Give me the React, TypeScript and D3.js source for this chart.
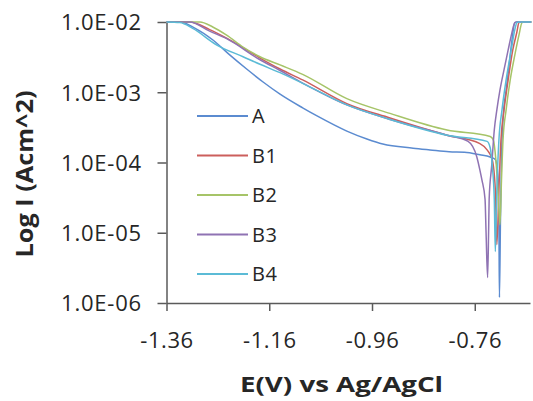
import React, { useRef, useEffect } from "react";
import * as d3 from "d3";

// Tafel curves: potential (V vs Ag/AgCl) and current density (A/cm^2)
const seriesNames = ["A", "B1", "B2", "B3", "B4"];
const seriesColors = ["#5b8bd0", "#cc5f5c", "#a6c468", "#8f73b3", "#5bbbd6"];

const aE = [-1.36, -1.334, -1.305, -1.269, -1.237, -1.204, -1.172, -1.139, -1.095, -1.067, -1.009, -0.97, -0.939, -0.88, -0.847, -0.81, -0.78, -0.75, -0.73, -0.72, -0.715, -0.713, -0.712, -0.71, -0.708, -0.705, -0.699, -0.693, -0.688, -0.682, -0.678, -0.65];
const aI = [1e-2, 1e-2, 8.2e-3, 5.5e-3, 3.4e-3, 2.14e-3, 1.4e-3, 9.4e-4, 6.0e-4, 4.6e-4, 2.8e-4, 2.16e-4, 1.83e-4, 1.6e-4, 1.51e-4, 1.42e-4, 1.4e-4, 1.29e-4, 1.2e-4, 1.1e-4, 6.6e-5, 1.5e-5, 1.2e-6, 1.5e-5, 1.1e-4, 4.1e-4, 1.07e-3, 2.5e-3, 5.2e-3, 9.8e-3, 1e-2, 1e-2];

const b1E = [-1.36, -1.315, -1.276, -1.243, -1.178, -1.139, -1.095, -1.009, -0.925, -0.814, -0.75, -0.736, -0.726, -0.72, -0.717, -0.713, -0.709, -0.703, -0.695, -0.686, -0.678, -0.674, -0.67, -0.65];
const b1I = [1e-2, 1e-2, 7.8e-3, 5.9e-3, 3.07e-3, 2.14e-3, 1.5e-3, 6.9e-4, 4.3e-4, 2.45e-4, 1.86e-4, 1.51e-4, 1.1e-4, 4.1e-5, 6.8e-6, 4.1e-5, 2.1e-4, 5.6e-4, 1.5e-3, 4.0e-3, 7.2e-3, 9.8e-3, 1e-2, 1e-2];

const b2E = [-1.36, -1.295, -1.27, -1.243, -1.211, -1.178, -1.139, -1.095, -1.009, -0.925, -0.814, -0.73, -0.724, -0.719, -0.715, -0.711, -0.708, -0.705, -0.699, -0.691, -0.682, -0.674, -0.668, -0.664, -0.65];
const b2I = [1e-2, 1e-2, 8.5e-3, 6.5e-3, 4.4e-3, 3.2e-3, 2.45e-3, 1.8e-3, 8.1e-4, 5.0e-4, 2.9e-4, 2.35e-4, 2.1e-4, 1.1e-4, 4.1e-5, 1.3e-5, 5.6e-5, 2.1e-4, 5.6e-4, 1.5e-3, 3.4e-3, 6.5e-3, 9.8e-3, 1e-2, 1e-2];

const b3E = [-1.36, -1.315, -1.276, -1.243, -1.178, -1.139, -1.095, -1.009, -0.925, -0.814, -0.773, -0.756, -0.75, -0.746, -0.74, -0.738, -0.735, -0.733, -0.732, -0.727, -0.722, -0.717, -0.711, -0.703, -0.695, -0.688, -0.682, -0.678, -0.65];
const b3I = [1e-2, 1e-2, 7.4e-3, 5.8e-3, 2.9e-3, 2.04e-3, 1.35e-3, 6.6e-4, 4.1e-4, 2.45e-4, 2.0e-4, 1.2e-4, 7.8e-5, 5.6e-5, 3.0e-5, 1.0e-5, 2.3e-6, 1.1e-5, 3.0e-5, 9.1e-5, 2.9e-4, 5.6e-4, 1.07e-3, 2.1e-3, 4.0e-3, 6.9e-3, 9.8e-3, 1e-2, 1e-2];

const b4E = [-1.36, -1.334, -1.309, -1.262, -1.211, -1.178, -1.139, -1.095, -1.009, -0.925, -0.814, -0.736, -0.73, -0.726, -0.722, -0.72, -0.717, -0.713, -0.707, -0.699, -0.689, -0.682, -0.678, -0.674, -0.65];
const b4I = [1e-2, 9.8e-3, 8.1e-3, 4.7e-3, 3.2e-3, 2.5e-3, 1.9e-3, 1.34e-3, 6.6e-4, 4.1e-4, 2.45e-4, 2.0e-4, 1.62e-4, 9.1e-5, 3.0e-5, 5.4e-6, 4.1e-5, 2.1e-4, 5.6e-4, 1.5e-3, 4.0e-3, 7.8e-3, 9.8e-3, 1e-2, 1e-2];

const seriesE = [aE, b1E, b2E, b3E, b4E];
const seriesI = [aI, b1I, b2I, b3I, b4I];

const xTickValues = [-1.36, -1.16, -0.96, -0.76];
const xTickLabels = ["-1.36", "-1.16", "-0.96", "-0.76"];
const yTickValues = [1e-2, 1e-3, 1e-4, 1e-5, 1e-6];
const yTickLabels = ["1.0E-02", "1.0E-03", "1.0E-04", "1.0E-05", "1.0E-06"];

export default function App() {
  const svgRef = useRef<SVGSVGElement>(null);

  useEffect(() => {
    const svg = d3.select(svgRef.current);
    svg.selectAll("*").remove();

    const width = 533;
    const height = 401;
    const left = 166.5;
    const right = 530;
    const top = 22;
    const bottom = 303;
    const font = "'Open Sans', sans-serif";
    const axisColor = "#5a5a5a";
    const textColor = "#262626";

    svg.attr("width", width).attr("height", height);

    const x = d3.scaleLinear().domain([-1.36, -0.6525]).range([left, right]);
    const y = d3.scaleLog().domain([1e-6, 1e-2]).range([bottom, top]);

    // Axes
    const xAxis = svg.append("g")
      .attr("transform", `translate(0,${bottom})`)
      .attr("color", axisColor)
      .call(
        d3.axisBottom(x)
          .tickValues(xTickValues)
          .tickFormat((_, i) => xTickLabels[i])
          .tickSize(8)
          .tickSizeOuter(0)
      );
    xAxis.selectAll("path, line").attr("stroke-width", 1.5);
    xAxis.selectAll("text")
      .attr("y", 45)
      .attr("dy", null)
      .attr("fill", textColor)
      .attr("font-family", font)
      .attr("font-size", 22)
      .attr("letter-spacing", 0.6);

    const yAxis = svg.append("g")
      .attr("transform", `translate(${left},0)`)
      .attr("color", axisColor)
      .call(
        d3.axisLeft(y)
          .tickValues(yTickValues)
          .tickFormat((_, i) => yTickLabels[i])
          .tickSize(9)
          .tickSizeOuter(0)
      );
    yAxis.selectAll("path, line").attr("stroke-width", 1.5);
    yAxis.selectAll("text")
      .attr("x", -24.5)
      .attr("dy", "0.36em")
      .attr("fill", textColor)
      .attr("font-family", font)
      .attr("font-size", 22)
      .attr("letter-spacing", 0.8);

    // Curves (potential increases along each series, so monotoneX keeps them smooth)
    const line = d3.line<[number, number]>()
      .x((d) => x(d[0]))
      .y((d) => y(d[1]))
      .curve(d3.curveMonotoneX);

    seriesNames.forEach((name, k) => {
      const pts: [number, number][] = seriesE[k].map((e, i) => [e, seriesI[k][i]]);
      svg.append("path")
        .datum(pts)
        .attr("fill", "none")
        .attr("stroke", seriesColors[k])
        .attr("stroke-width", 1.5)
        .attr("stroke-linejoin", "round")
        .attr("d", line);
    });

    // Legend
    const rowY = d3.scalePoint().domain(seriesNames).range([116, 274]);
    const legend = svg.append("g");
    seriesNames.forEach((name, k) => {
      legend.append("line")
        .attr("x1", 197)
        .attr("x2", 248)
        .attr("y1", rowY(name))
        .attr("y2", rowY(name))
        .attr("stroke", seriesColors[k])
        .attr("stroke-width", 2);
      legend.append("text")
        .attr("x", 252)
        .attr("y", rowY(name))
        .attr("dy", "0.36em")
        .attr("fill", textColor)
        .attr("font-family", font)
        .attr("font-size", 20)
        .attr("letter-spacing", 0.5)
        .text(name);
    });

    // Axis titles
    svg.append("text")
      .attr("x", 341.5)
      .attr("y", 392)
      .attr("text-anchor", "middle")
      .attr("fill", textColor)
      .attr("font-family", font)
      .attr("font-weight", "bold")
      .attr("font-size", 21)
      .attr("textLength", 203)
      .attr("lengthAdjust", "spacingAndGlyphs")
      .text("E(V) vs Ag/AgCl");

    svg.append("text")
      .attr("transform", "translate(33,174) rotate(-90)")
      .attr("text-anchor", "middle")
      .attr("fill", textColor)
      .attr("font-family", font)
      .attr("font-weight", "bold")
      .attr("font-size", 23)
      .attr("textLength", 167)
      .attr("lengthAdjust", "spacingAndGlyphs")
      .text("Log I (Acm^2)");
  }, []);

  return (
    <svg
      ref={svgRef}
      style={{ position: "absolute", left: 0, top: 0, background: "#fff" }}
    />
  );
}
